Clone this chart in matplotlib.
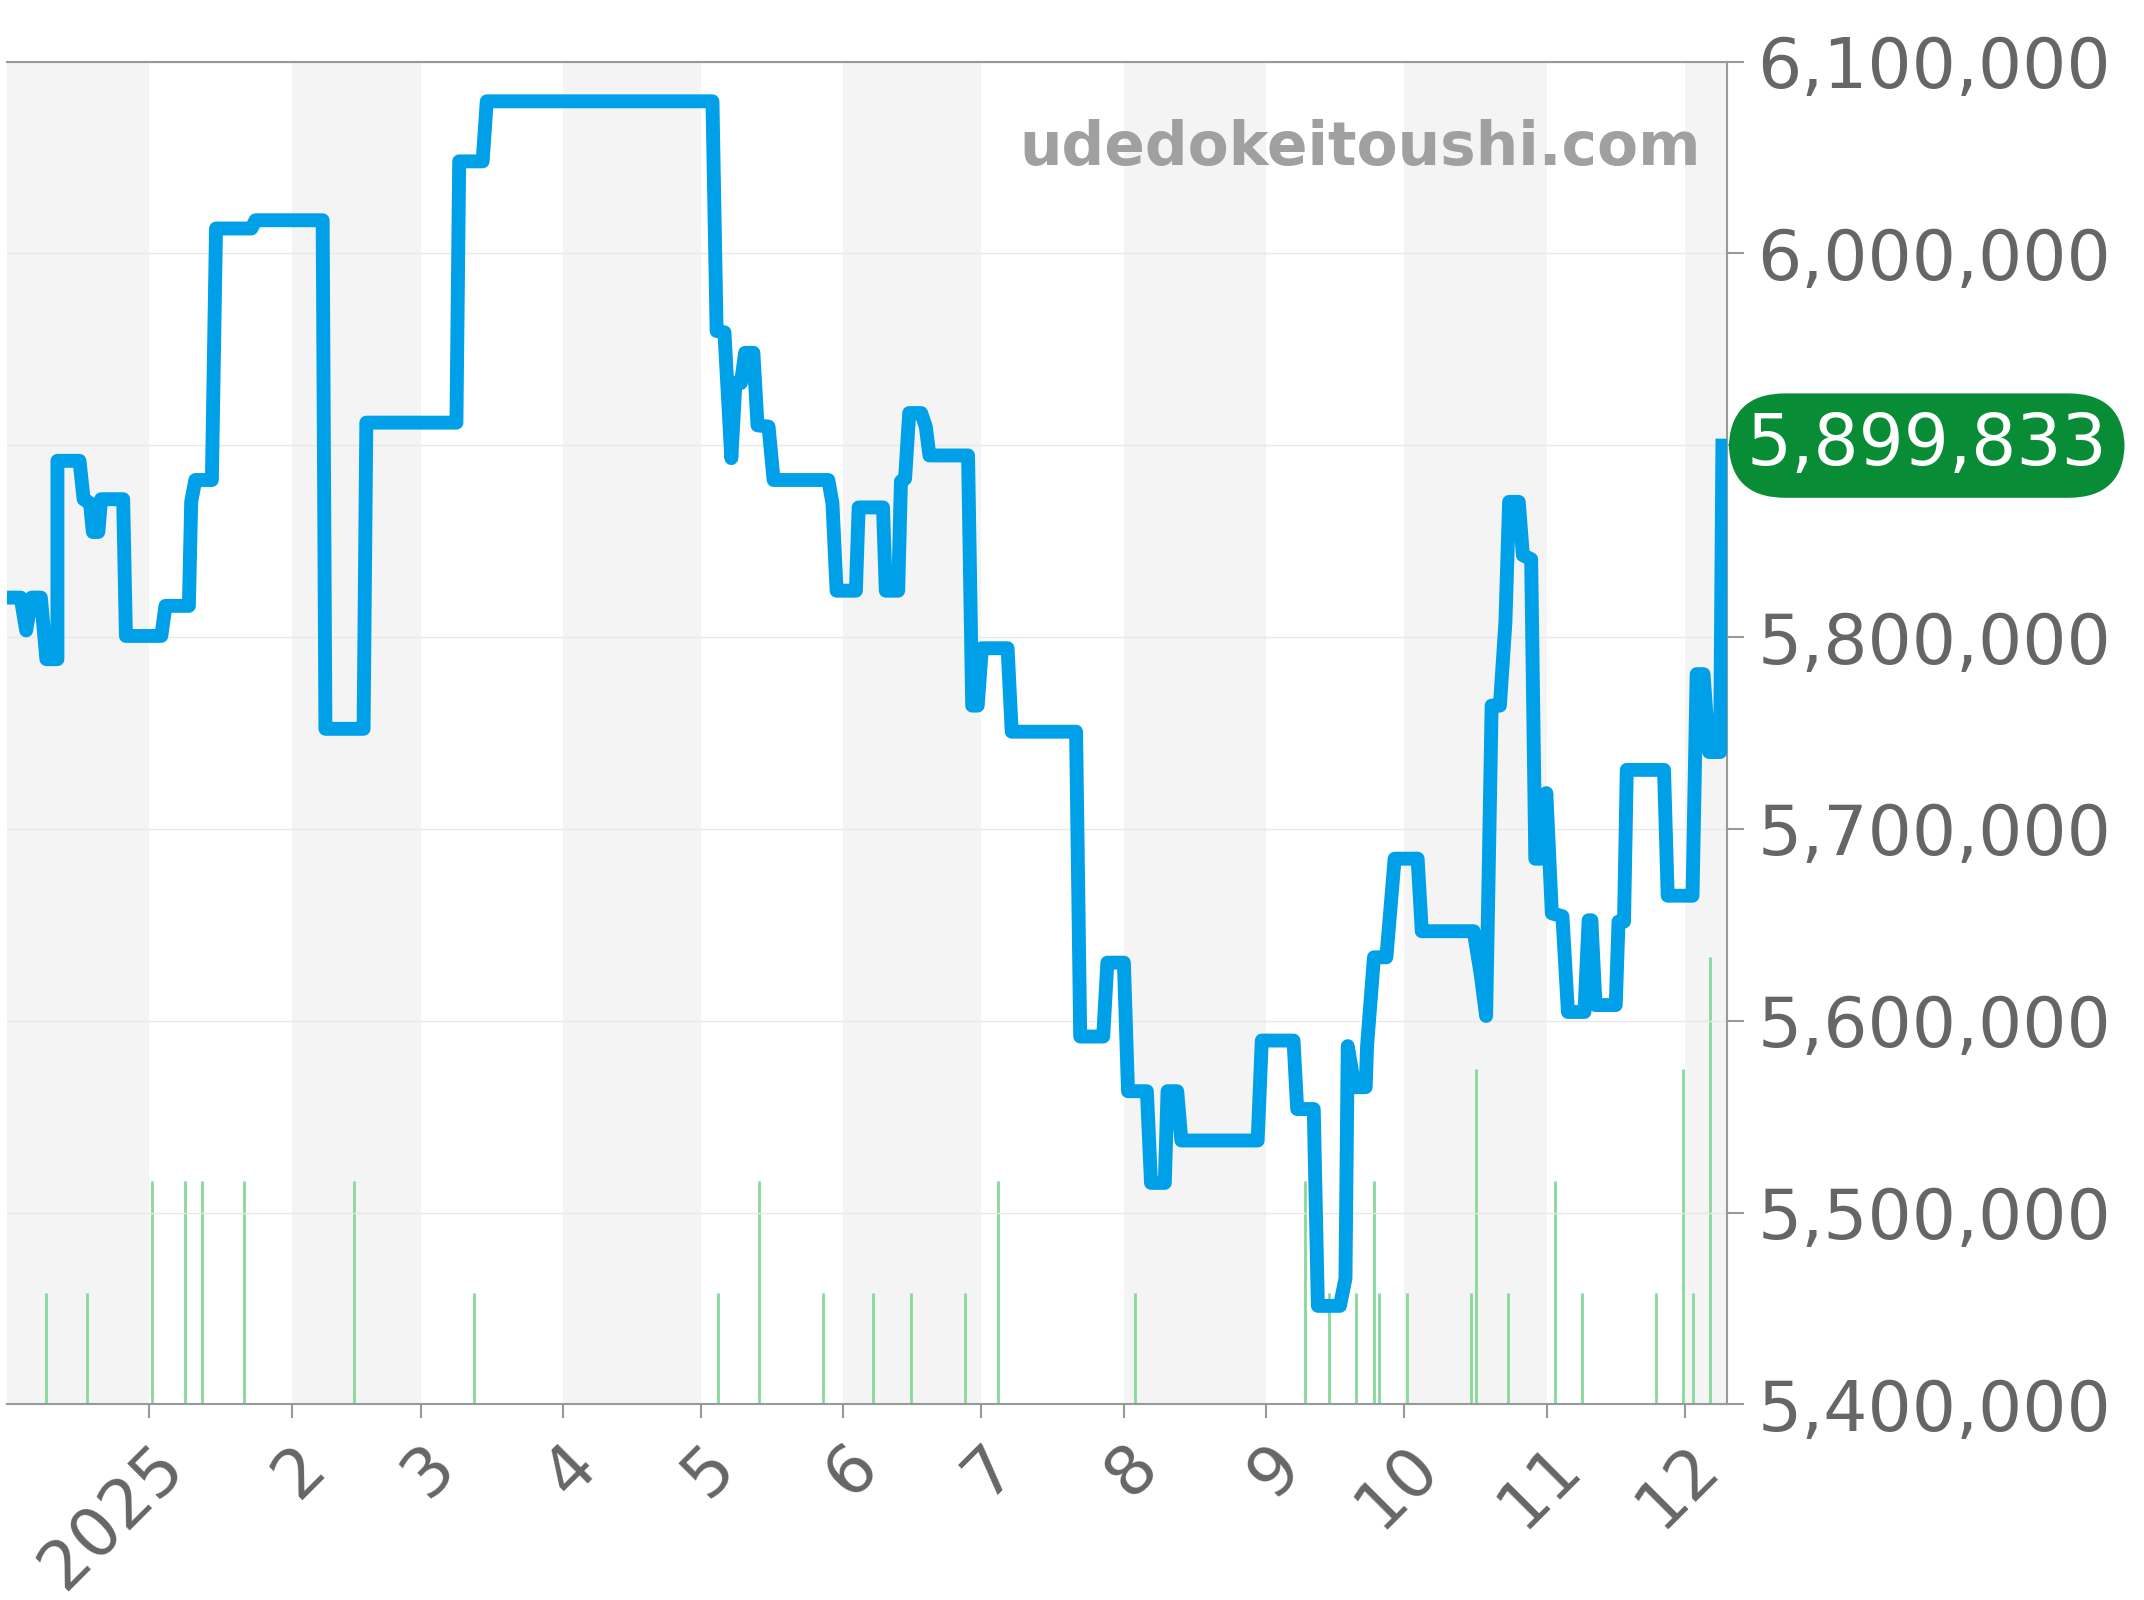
import matplotlib
matplotlib.use("Agg")
import matplotlib.pyplot as plt
import pandas as pd

start = pd.Timestamp("2024-12-01")
# days since 2024-12-01 and price
days = [0,3.0,4.2,5.4,7.4,8.6,11.0,11.0,15.8,16.7,18.1,18.7,19.9,20.5,25.3,25.9,33.6,34.5,39.6,40.1,41.0,44.6,45.5,53.2,54.1,68.7,69.3,77.6,78.2,97.8,98.4,103.5,104.4,153.5,154.4,156.1,157.6,158.5,159.7,160.6,162.4,163.3,165.7,166.8,178.7,179.6,180.5,184.7,185.3,190.6,191.2,193.9,194.5,195.4,196.3,198.9,199.9,200.7,209.1,210.0,211.2,212.1,217.7,218.6,232.6,233.5,238.5,239.4,243.0,243.9,248.0,248.9,251.9,252.5,254.6,255.5,272.1,273.0,279.9,280.7,284.3,285.2,290.0,291.2,291.7,293.2,295.6,295.9,297.4,300.1,301.3,301.9,306.9,307.8,319.1,320.6,321.8,323.0,324.8,326.0,326.8,328.9,329.8,331.6,332.5,333.7,334.9,336.1,338.4,339.6,343.2,344.1,344.7,345.6,350.0,350.6,351.8,352.4,360.5,361.3,366.7,367.6,369.1,370.3,372.7,373.2]
prices = [5820600,5820600,5803500,5820600,5820600,5788500,5788500,5891900,5891900,5871900,5869800,5854800,5854800,5871900,5871900,5800600,5800600,5816300,5816300,5870500,5881900,5881900,6013000,6013000,6017300,6017300,5752200,5752200,5911800,5911800,6048000,6048000,6079300,6079300,5959600,5958900,5893300,5932500,5932500,5948200,5948200,5910400,5909700,5881900,5881900,5869800,5824200,5824200,5867600,5867600,5824200,5824200,5881200,5882600,5916800,5916800,5909700,5894700,5894700,5764300,5764300,5794200,5794200,5750700,5750700,5591800,5591800,5630300,5630300,5563300,5563300,5515500,5515500,5563300,5563300,5537600,5537600,5589700,5589700,5554000,5554000,5451400,5451400,5465600,5586800,5565400,5565400,5586800,5633100,5633100,5667400,5684500,5684500,5646700,5646700,5624600,5602500,5764300,5764300,5807800,5870500,5870500,5842700,5840600,5684500,5684500,5718700,5656000,5654500,5604600,5604600,5652400,5652400,5608200,5608200,5651700,5651700,5730800,5730800,5665200,5665200,5780700,5780700,5740100,5740100,5899833]
vol_days = [8.6,17.5,31.5,38.7,42.5,51.5,75.5,101.7,154.6,163.6,177.5,188.5,196.6,208.5,215.6,245.4,282.5,287.6,293.5,297.4,298.6,304.5,318.5,319.7,326.5,336.7,342.6,358.7,364.6,366.7,370.6]
vol = [1,1,2,2,2,2,2,1,1,2,1,1,1,1,2,1,2,1,1,2,1,1,1,3,1,2,1,1,3,1,4]
yticks = [5400000,5500000,5600000,5700000,5800000,5900000,6000000,6100000]
month_labels = ["2025","2","3","4","5","6","7","8","9","10","11","12"]

dates = [start + pd.Timedelta(days=d) for d in days]
vdates = [start + pd.Timedelta(days=d) for d in vol_days]
xmin = start
xmax = start + pd.Timedelta(days=374.2)

fig = plt.figure(figsize=(21.44, 16), dpi=100)
ax = fig.add_axes([0.0032, 0.1222, 0.8023, 0.8393])
ax2 = ax.twinx()
ax.set_xlim(xmin, xmax)
ax.set_ylim(5400000, 6100000)
ax2.set_ylim(0, 12)

months = pd.date_range("2024-12-01", "2026-01-01", freq="MS")
for i in range(len(months) - 1):
    if i % 2 == 0:
        ax2.axvspan(months[i], min(months[i+1], xmax), color="#f4f4f4", zorder=0, lw=0)
ax2.vlines(vdates, 0, vol, color="#88d898", lw=2, zorder=2)
ax2.set_yticks([])
for s in ax2.spines.values():
    s.set_visible(False)

for y in yticks:
    ax.axhline(y, color="#e8e8e8", lw=1, zorder=1)
ax.plot(dates, prices, color="#00a0e9", lw=10, zorder=5, solid_joinstyle="round")
ax.set_zorder(ax2.get_zorder() + 1)
ax.patch.set_visible(False)

ax.yaxis.tick_right()
ax.set_yticks(yticks)
ax.set_yticklabels([f"{v:,}" if v != 5900000 else "" for v in yticks], fontsize=50, color="#666666")
ax.tick_params(axis="y", length=12, width=1.5, color="#999999", pad=10)
ticks = pd.date_range("2025-01-01", "2025-12-01", freq="MS")
ax.set_xticks(ticks)
ax.set_xticklabels(month_labels, fontsize=49, color="#666666", rotation=45, ha="right", rotation_mode="anchor")
ax.tick_params(axis="x", length=10, width=1.5, color="#999999", pad=10)
ax.spines["left"].set_visible(False)
for k in ["top", "right", "bottom"]:
    ax.spines[k].set_color("#999999")
    ax.spines[k].set_linewidth(1.5)

ax.text(0.985, 0.935, "udedokeitoushi.com", transform=ax.transAxes, ha="right", va="center",
        fontsize=43, fontweight="bold", color="#a0a0a0", zorder=6)

last = prices[-1]
ax.annotate(f"{last:,}", xy=(1.0, last), xycoords=("axes fraction", "data"),
            xytext=(14, 0), textcoords="offset points", ha="left", va="center",
            fontsize=51, color="white", annotation_clip=False, zorder=10,
            bbox=dict(boxstyle="round,pad=0.25,rounding_size=0.8", fc="#088c35", ec="none"))

fig.savefig("out.png", dpi=100)
